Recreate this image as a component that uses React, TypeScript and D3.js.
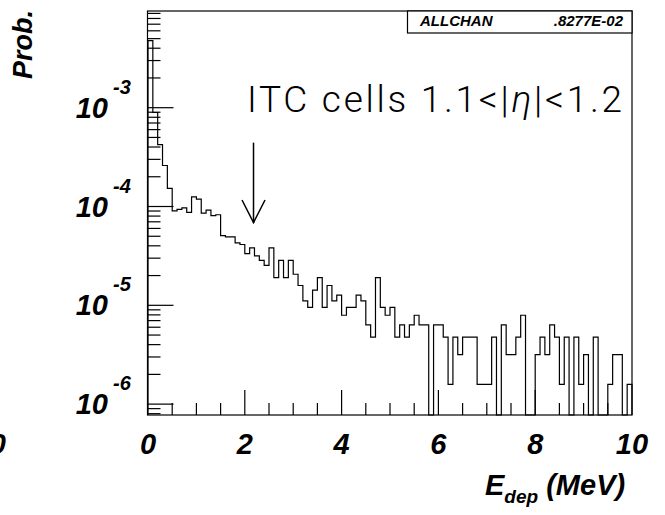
import React from "react";
import * as d3 from "d3";

// ---- data ----
const X_MIN = 0;
const X_MAX = 10;
const BIN_WIDTH = 0.1;
// entries per 0.1 MeV bin
const binCounts = [
  3005, 564, 267, 164, 96, 57, 59, 61, 55, 79,
  75, 54, 58, 51, 52, 32, 31, 31, 27, 26,
  21, 24, 20, 18, 16, 24, 12, 18, 12, 18,
  13, 10, 7, 6, 9, 12, 6, 10, 7, 8,
  5, 6, 6, 8, 7, 4, 3, 12, 6, 5,
  6, 3, 4, 3, 4, 5, 4, 4, 0, 4,
  4, 3, 1, 3, 2, 3, 3, 3, 1, 1,
  1, 3, 0, 4, 2, 2, 3, 5, 0, 0,
  2, 3, 2, 4, 3, 1, 3, 0, 3, 1,
  2, 0, 3, 0, 0, 1, 2, 2, 0, 1,
];
const PROB_PER_ENTRY = 1.586e-6;
const Y_MIN = 7.76e-7;
const Y_MAX = 9.52e-3;

const xMajorTicks = [0, 2, 4, 6, 8, 10];
const xTickLabels = ["0", "2", "4", "6", "8", "10"];
const xMinorStep = 0.5;
const yDecades = [-6, -5, -4, -3];
const yDecadeLabels = ["-6", "-5", "-4", "-3"];

const titleText = "ITC cells 1.1<|";
const titleEta = "η";
const titleTail = "|<1.2";
const statsName = "ALLCHAN";
const statsValue = ".8277E-02";
const arrowX = 2.18;
const arrowTop = 4.43e-4;
const arrowTip = 6.86e-5;

// ---- layout ----
const W = 665;
const H = 515;
const FL = 147.5;
const FR = 632;
const FT = 11;
const FB = 415;

const FONT = "'Liberation Sans', Arial, Helvetica, sans-serif";

export default function App() {
  const x = d3.scaleLinear().domain([X_MIN, X_MAX]).range([148, FR]);
  const y = d3.scaleLog().domain([Y_MIN, Y_MAX]).range([FB, FT]);

  const probs = binCounts.map((c) => c * PROB_PER_ENTRY);
  const yv = (v: number) => (v > 0 ? Math.min(FB, Math.max(FT, y(v))) : FB);

  let d = `M${x(X_MIN)},${FB}`;
  probs.forEach((v, i) => {
    const x0 = x(X_MIN + i * BIN_WIDTH);
    const x1 = x(X_MIN + (i + 1) * BIN_WIDTH);
    d += `L${x0},${yv(v)}L${x1},${yv(v)}`;
  });
  d += `L${x(X_MAX)},${FB}`;

  // y ticks
  const yTicks: { v: number; major: boolean }[] = [];
  for (let e = -7; e <= -2; e++) {
    for (let m = 1; m <= 9; m++) {
      const v = m * Math.pow(10, e);
      if (v >= Y_MIN && v <= Y_MAX) yTicks.push({ v, major: m === 1 });
    }
  }
  const xTicks = d3.range(X_MIN + xMinorStep, X_MAX, xMinorStep);

  const ax = x(arrowX);
  const aTop = y(arrowTop);
  const aTip = y(arrowTip);

  return (
    <svg
      width={W}
      height={H}
      style={{ position: "absolute", left: 0, top: 0, background: "#fff" }}
      fontFamily={FONT}
    >
      <rect x={0} y={0} width={W} height={H} fill="#fff" />
      {/* frame */}
      <rect x={FL} y={FT} width={FR - FL} height={FB - FT} fill="none" stroke="#000" strokeWidth={1.2} />
      {/* y ticks */}
      {yTicks.map((t, i) => (
        <line key={"yt" + i} x1={FL} x2={FL + (t.major ? 26 : 13)} y1={y(t.v)} y2={y(t.v)} stroke="#000" strokeWidth={1.2} />
      ))}
      {/* x ticks */}
      {xTicks.map((t, i) => {
        const major = Math.abs(t % 2) < 1e-9;
        return (
          <line key={"xt" + i} x1={x(t)} x2={x(t)} y1={FB} y2={FB - (major ? 25 : 12)} stroke="#000" strokeWidth={1.2} />
        );
      })}
      {/* histogram */}
      <path d={d} fill="none" stroke="#000" strokeWidth={1.2} />
      {/* stats box */}
      <rect x={407.5} y={FT} width={FR - 407.5} height={22} fill="#fff" stroke="#000" strokeWidth={1.2} />
      <text x={420} y={26} fontSize={15} fontWeight="bold" fontStyle="italic">{statsName}</text>
      <text x={623} y={26} fontSize={15} fontWeight="bold" fontStyle="italic" textAnchor="end">{statsValue}</text>
      {/* title */}
      <text x={247} y={112} fontSize={37} fontFamily="Roboto, 'Liberation Sans', sans-serif" fontWeight={300} textLength={375} lengthAdjust="spacing">
        {titleText}
        <tspan fontStyle="italic">{titleEta}</tspan>
        {titleTail}
      </text>
      {/* arrow */}
      <line x1={ax} x2={ax} y1={aTop} y2={aTip} stroke="#000" strokeWidth={1.5} />
      <polyline points={`${ax - 11.5},${aTip - 22.7} ${ax},${aTip} ${ax + 11.5},${aTip - 22.7}`} fill="none" stroke="#000" strokeWidth={1.5} />
      {/* x tick labels */}
      {xMajorTicks.map((t, i) => (
        <text key={"xl" + i} x={x(t)} y={454} fontSize={29} fontWeight="bold" fontStyle="italic" textAnchor="middle">{xTickLabels[i]}</text>
      ))}
      <text x={6} y={454} fontSize={29} fontWeight="bold" fontStyle="italic" textAnchor="end">0</text>
      {/* y tick labels */}
      {yDecades.map((e, i) => {
        const ty = y(Math.pow(10, e));
        return (
          <g key={"yl" + i}>
            <text x={108} y={ty + 10} fontSize={29} fontWeight="bold" fontStyle="italic" textAnchor="end">10</text>
            <text x={113} y={ty - 14} fontSize={20} fontWeight="bold" fontStyle="italic">{yDecadeLabels[i]}</text>
          </g>
        );
      })}
      {/* axis titles */}
      <text transform="translate(32,10) rotate(-90)" fontSize={27} fontWeight="bold" fontStyle="italic" textAnchor="end">Prob.</text>
      <text x={485} y={495} fontSize={29} fontWeight="bold" fontStyle="italic">
        E<tspan fontSize={19} dy={8}>dep</tspan>
        <tspan dy={-8}> (MeV)</tspan>
      </text>
    </svg>
  );
}
